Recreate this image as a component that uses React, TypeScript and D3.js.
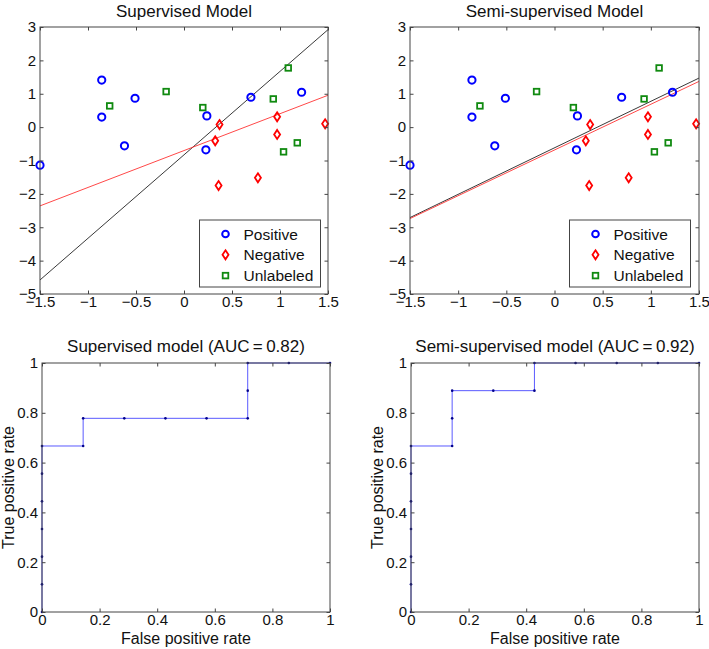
import { useEffect, useRef } from "react";
import * as d3 from "d3";

// scatter data (both top panels share the points)
const positiveX = [-1.5, -0.857, -0.857, -0.51, -0.62, 0.238, 0.228, 0.697, 1.225];
const positiveY = [-1.14, 1.41, 0.3, 0.865, -0.56, 0.337, -0.68, 0.895, 1.045];
const negativeX = [0.37, 0.325, 0.36, 0.77, 0.97, 0.97, 1.47];
const negativeY = [0.077, -0.41, -1.75, -1.52, 0.31, -0.22, 0.1];
const unlabeledX = [-0.774, -0.186, 0.196, 0.93, 1.086, 1.18, 1.037];
const unlabeledY = [0.636, 1.065, 0.586, 0.845, 1.773, -0.47, -0.74];

// decision boundaries, evaluated at the x-axis limits
const boundaryX = [-1.5, 1.5];
const supBlackY = [-4.58, 2.92];
const supRedY = [-2.36, 0.955];
const semiBlackY = [-2.71, 1.47];
const semiRedY = [-2.74, 1.37];

const scatterXTicks = [-1.5, -1, -0.5, 0, 0.5, 1, 1.5];
const scatterYTicks = [-5, -4, -3, -2, -1, 0, 1, 2, 3];
const legendLabels = ["Positive", "Negative", "Unlabeled"];

// ROC curves
const supFpr = [0, 0, 0, 0, 0, 0, 0, 0.1429, 0.1429, 0.2857, 0.4286, 0.5714, 0.7143, 0.7143, 0.7143, 0.8571, 1];
const supTpr = [0, 0.1111, 0.2222, 0.3333, 0.4444, 0.5556, 0.6667, 0.6667, 0.7778, 0.7778, 0.7778, 0.7778, 0.7778, 0.8889, 1, 1, 1];
const semiFpr = [0, 0, 0, 0, 0, 0, 0, 0.1429, 0.1429, 0.1429, 0.2857, 0.4286, 0.4286, 0.5714, 0.7143, 0.8571, 1];
const semiTpr = [0, 0.1111, 0.2222, 0.3333, 0.4444, 0.5556, 0.6667, 0.6667, 0.7778, 0.8889, 0.8889, 0.8889, 1, 1, 1, 1, 1];
const rocTicks = [0, 0.2, 0.4, 0.6, 0.8, 1];

const FONT = "'Liberation Sans', Arial, sans-serif";
const AXIS = "#444";
const fmt = (d: number) => (d < 0 ? "\u2212" + String(-d) : String(d));

type Box = { left: number; top: number; right: number; bottom: number };

function frame(
  g: d3.Selection<SVGGElement, unknown, null, undefined>,
  x: d3.ScaleLinear<number, number>,
  y: d3.ScaleLinear<number, number>,
  b: Box,
  xt: number[],
  yt: number[]
) {
  const style = (sel: any) => {
    sel.attr("font-size", null).attr("font-family", null);
    sel.select(".domain").remove();
    sel.selectAll("line").attr("stroke", AXIS);
    sel.selectAll("text").attr("fill", "#111").style("font-family", FONT).style("font-size", "15px");
  };
  g.append("g").attr("transform", `translate(0,${b.bottom})`)
    .call(d3.axisBottom(x).tickValues(xt).tickFormat((d: any) => fmt(+d)).tickSizeInner(-3.5).tickSizeOuter(0).tickPadding(2))
    .call(style);
  g.append("g").attr("transform", `translate(0,${b.top})`)
    .call(d3.axisTop(x).tickValues(xt).tickFormat(() => "").tickSizeInner(-3.5).tickSizeOuter(0))
    .call(style);
  g.append("g").attr("transform", `translate(${b.left},0)`)
    .call(d3.axisLeft(y).tickValues(yt).tickFormat((d: any) => fmt(+d)).tickSizeInner(-3.5).tickSizeOuter(0).tickPadding(4))
    .call(style);
  g.append("g").attr("transform", `translate(${b.right},0)`)
    .call(d3.axisRight(y).tickValues(yt).tickFormat(() => "").tickSizeInner(-3.5).tickSizeOuter(0))
    .call(style);
  g.append("rect")
    .attr("x", b.left).attr("y", b.top)
    .attr("width", b.right - b.left).attr("height", b.bottom - b.top)
    .attr("fill", "none").attr("stroke", AXIS).attr("stroke-width", 1);
}

const diamond = (cx: number, cy: number) =>
  `M${cx},${cy - 4.5}L${cx + 3},${cy}L${cx},${cy + 4.5}L${cx - 3},${cy}Z`;

function scatterPanel(
  svg: d3.Selection<SVGSVGElement, unknown, null, undefined>,
  b: Box,
  title: string,
  blackY: number[],
  redY: number[],
  legendLeft: number
) {
  const g = svg.append("g");
  const x = d3.scaleLinear().domain([-1.5, 1.5]).range([b.left, b.right]);
  const y = d3.scaleLinear().domain([-5, 3]).range([b.bottom, b.top]);

  const line = d3.line<number>().x((_, i) => x(boundaryX[i])).y((d) => y(d));
  g.append("path").attr("d", line(blackY)).attr("stroke", "#222").attr("stroke-width", 0.9).attr("fill", "none");
  g.append("path").attr("d", line(redY)).attr("stroke", "#f33").attr("stroke-width", 0.9).attr("fill", "none");

  g.selectAll(".pos").data(positiveX).join("circle")
    .attr("cx", (d) => x(d)).attr("cy", (_, i) => y(positiveY[i])).attr("r", 3.6)
    .attr("fill", "none").attr("stroke", "#0000ff").attr("stroke-width", 2);
  g.selectAll(".neg").data(negativeX).join("path")
    .attr("d", (d, i) => diamond(x(d), y(negativeY[i])))
    .attr("fill", "none").attr("stroke", "#ff0000").attr("stroke-width", 1.8);
  g.selectAll(".unl").data(unlabeledX).join("rect")
    .attr("x", (d) => x(d) - 2.8).attr("y", (_, i) => y(unlabeledY[i]) - 2.8)
    .attr("width", 5.6).attr("height", 5.6)
    .attr("fill", "none").attr("stroke", "#108a10").attr("stroke-width", 1.8);

  frame(g, x, y, b, scatterXTicks, scatterYTicks);

  g.append("text").attr("x", (b.left + b.right) / 2).attr("y", b.top - 10)
    .attr("text-anchor", "middle").style("font-family", FONT).style("font-size", "17px")
    .attr("fill", "#111").text(title);

  // legend
  const lg = g.append("g").attr("transform", `translate(${legendLeft},220)`);
  lg.append("rect").attr("width", 121).attr("height", 67).attr("fill", "#fff").attr("stroke", AXIS);
  legendLabels.forEach((lab, i) => {
    const cy = 14 + i * 20.8;
    if (i === 0) lg.append("circle").attr("cx", 26).attr("cy", cy).attr("r", 3.3).attr("fill", "none").attr("stroke", "#0000ff").attr("stroke-width", 2);
    if (i === 1) lg.append("path").attr("d", diamond(26, cy)).attr("fill", "none").attr("stroke", "#ff0000").attr("stroke-width", 1.8);
    if (i === 2) lg.append("rect").attr("x", 23.2).attr("y", cy - 2.8).attr("width", 5.6).attr("height", 5.6).attr("fill", "none").attr("stroke", "#108a10").attr("stroke-width", 1.8);
    lg.append("text").attr("x", 44).attr("y", cy + 5.5).style("font-family", FONT).style("font-size", "15.5px").attr("fill", "#111").text(lab);
  });
}

function rocPanel(
  svg: d3.Selection<SVGSVGElement, unknown, null, undefined>,
  b: Box,
  title: string,
  fpr: number[],
  tpr: number[]
) {
  const g = svg.append("g");
  const x = d3.scaleLinear().domain([0, 1]).range([b.left, b.right]);
  const y = d3.scaleLinear().domain([0, 1]).range([b.bottom, b.top]);

  const line = d3.line<number>().x((d) => x(d)).y((_, i) => y(tpr[i]));
  g.append("path").attr("d", line(fpr)).attr("stroke", "#5a5aff").attr("stroke-width", 1).attr("fill", "none");
  g.selectAll(".pt").data(fpr).join("circle")
    .attr("cx", (d) => x(d)).attr("cy", (_, i) => y(tpr[i])).attr("r", 1.3).attr("fill", "#00008b");

  frame(g, x, y, b, rocTicks, rocTicks);

  g.append("text").attr("x", (b.left + b.right) / 2).attr("y", b.top - 11)
    .attr("text-anchor", "middle").style("font-family", FONT).style("font-size", "17px")
    .attr("fill", "#111").text(title);
  g.append("text").attr("x", (b.left + b.right) / 2).attr("y", b.bottom + 32)
    .attr("text-anchor", "middle").style("font-family", FONT).style("font-size", "16px")
    .attr("fill", "#111").text("False positive rate");
  g.append("text").attr("transform", `translate(${b.left - 28},${(b.top + b.bottom) / 2}) rotate(-90)`)
    .attr("text-anchor", "middle").style("font-family", FONT).style("font-size", "16px")
    .attr("fill", "#111").text("True positive rate");
}

export default function App() {
  const ref = useRef<SVGSVGElement | null>(null);

  useEffect(() => {
    if (!ref.current) return;
    const svg = d3.select(ref.current);
    svg.selectAll("*").remove();
    scatterPanel(svg, { left: 40, top: 27, right: 328, bottom: 294 }, "Supervised Model", supBlackY, supRedY, 199.5);
    scatterPanel(svg, { left: 410, top: 27, right: 699, bottom: 294 }, "Semi-supervised Model", semiBlackY, semiRedY, 569.5);
    rocPanel(svg, { left: 42, top: 363, right: 330, bottom: 612 }, "Supervised model (AUC\u2009=\u20090.82)", supFpr, supTpr);
    rocPanel(svg, { left: 411, top: 363, right: 699, bottom: 612 }, "Semi-supervised model (AUC\u2009=\u20090.92)", semiFpr, semiTpr);
  }, []);

  return (
    <svg
      ref={ref}
      width={709}
      height={649}
      style={{ position: "absolute", left: 0, top: 0, background: "#fff" }}
    />
  );
}
